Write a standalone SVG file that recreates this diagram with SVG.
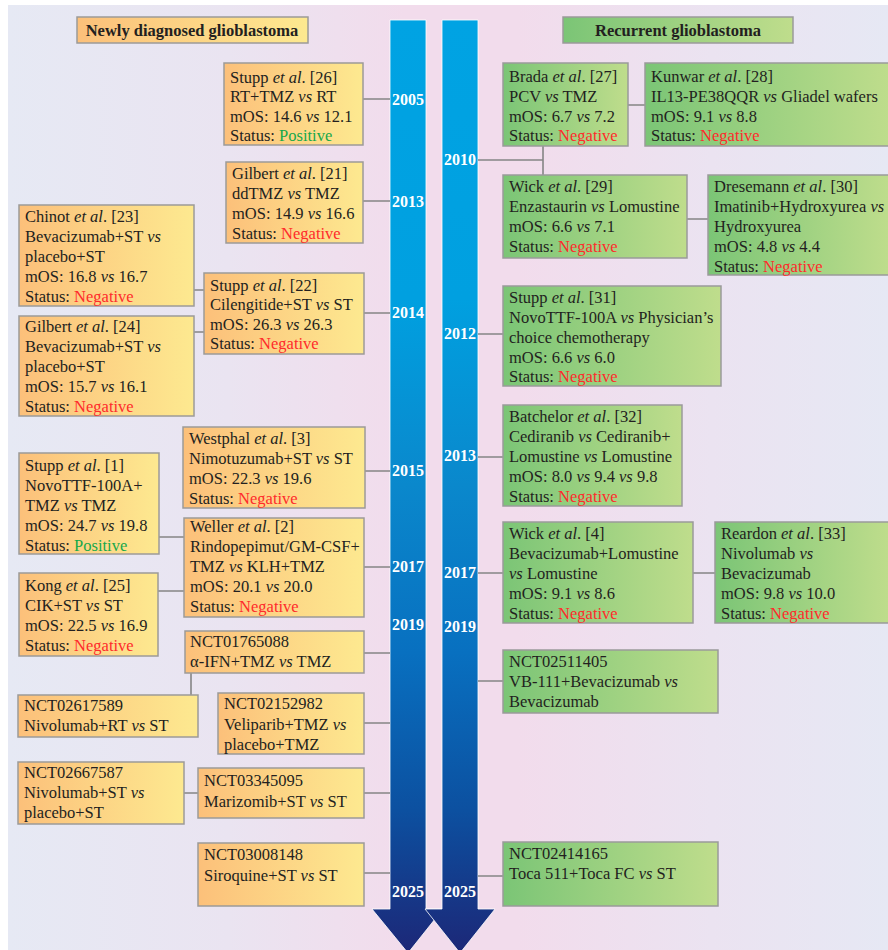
<svg xmlns="http://www.w3.org/2000/svg" width="888" height="950" viewBox="0 0 888 950">
<defs>
<linearGradient id="bg" x1="0" y1="0" x2="1" y2="0">
<stop offset="0" stop-color="#e6e9f4"/>
<stop offset="0.25" stop-color="#eae4f1"/>
<stop offset="0.45" stop-color="#f2dcec"/>
<stop offset="0.58" stop-color="#f2dcec"/>
<stop offset="0.8" stop-color="#ebe3f1"/>
<stop offset="1" stop-color="#e6e8f4"/>
</linearGradient>
<linearGradient id="og" x1="0" y1="0" x2="1" y2="0">
<stop offset="0" stop-color="#fcc07a"/>
<stop offset="1" stop-color="#fde990"/>
</linearGradient>
<linearGradient id="gg" x1="0" y1="0" x2="1" y2="0">
<stop offset="0" stop-color="#7bc576"/>
<stop offset="1" stop-color="#bfdd8c"/>
</linearGradient>
<linearGradient id="ag" gradientUnits="userSpaceOnUse" x1="0" y1="20" x2="0" y2="950">
<stop offset="0" stop-color="#00a3e3"/>
<stop offset="0.3" stop-color="#00a0e0"/>
<stop offset="0.5" stop-color="#0a88cc"/>
<stop offset="0.68" stop-color="#0870c0"/>
<stop offset="0.85" stop-color="#0c50a0"/>
<stop offset="1" stop-color="#1c2878"/>
</linearGradient>
<style>
.ob{fill:url(#og);stroke:#9c9a98;stroke-width:1.5}
.gb{fill:url(#gg);stroke:#9a9a9a;stroke-width:1.5}
text{font-family:"Liberation Serif","Times New Roman",serif;font-size:16.5px;fill:#231f20}
.hd{font-weight:bold;text-anchor:middle}
.yr{font-weight:bold;fill:#ffffff;text-anchor:middle;font-size:16px}
.i{font-style:italic}
.neg{fill:#ff2b2b}
.pos{fill:#16a84a}
.ln{stroke:#858585;stroke-width:1.6;fill:none}
.arr{fill:url(#ag);stroke:#ffffff;stroke-width:0.8}
</style>
</defs>
<rect x="0" y="0" width="888" height="950" fill="#ffffff"/>
<rect x="8" y="5" width="880" height="945" fill="url(#bg)"/>

<g id="arrows">
<polygon class="arr" points="390,20 426,20 426,909 443,909 408,953 372,909 390,909"/>
<polygon class="arr" points="442,20 478,20 478,909 495,909 460,953 425,909 442,909"/>
</g>

<g id="connectors">
<path class="ln" d="M363,99H390 M363,201H390 M194,290H204 M194,332H204 M364,313H390 M365,471H390 M159,537H184 M158,591H184 M364,567H390 M364,653H390 M191,673V695 M364,723H390 M184,793H198 M364,793H390 M364,873H390"/>
<path class="ln" d="M478,160H543 M543,146V175 M628,105H645 M687,219H708 M478,334H503 M478,457H503 M478,573H503 M693,573H715 M478,681H503 M478,876H503"/>
</g>

<g id="years">
<text class="yr" x="408" y="105">2005</text>
<text class="yr" x="408" y="207">2013</text>
<text class="yr" x="408" y="318">2014</text>
<text class="yr" x="408" y="476">2015</text>
<text class="yr" x="408" y="572">2017</text>
<text class="yr" x="408" y="630">2019</text>
<text class="yr" x="408" y="897">2025</text>
<text class="yr" x="460" y="165">2010</text>
<text class="yr" x="460" y="339">2012</text>
<text class="yr" x="460" y="461">2013</text>
<text class="yr" x="460" y="578">2017</text>
<text class="yr" x="460" y="632">2019</text>
<text class="yr" x="460" y="897">2025</text>
</g>

<g id="hdr-left">
<rect class="ob" x="77" y="17" width="231" height="26"/>
<text class="hd" x="192" y="36">Newly diagnosed glioblastoma</text>
</g>
<g id="hdr-right">
<rect class="gb" x="563" y="17" width="230" height="26"/>
<text class="hd" x="678" y="36">Recurrent glioblastoma</text>
</g>

<g id="stupp26">
<rect class="ob" x="224" y="63" width="139" height="82"/>
<text x="230" y="83">Stupp <tspan class="i">et al</tspan>. [26]</text>
<text x="230" y="102">RT+TMZ <tspan class="i">vs</tspan> RT</text>
<text x="230" y="122">mOS: 14.6 <tspan class="i">vs</tspan> 12.1</text>
<text x="230" y="141">Status: <tspan class="pos">Positive</tspan></text>
</g>
<g id="gilbert21">
<rect class="ob" x="226" y="162" width="137" height="81"/>
<text x="232" y="179">Gilbert <tspan class="i">et al</tspan>. [21]</text>
<text x="232" y="199">ddTMZ <tspan class="i">vs</tspan> TMZ</text>
<text x="232" y="219">mOS: 14.9 <tspan class="i">vs</tspan> 16.6</text>
<text x="232" y="239">Status: <tspan class="neg">Negative</tspan></text>
</g>
<g id="chinot23">
<rect class="ob" x="19" y="205" width="175" height="101"/>
<text x="25" y="222">Chinot <tspan class="i">et al</tspan>. [23]</text>
<text x="25" y="242">Bevacizumab+ST <tspan class="i">vs</tspan></text>
<text x="25" y="262">placebo+ST</text>
<text x="25" y="282">mOS: 16.8 <tspan class="i">vs</tspan> 16.7</text>
<text x="25" y="302">Status: <tspan class="neg">Negative</tspan></text>
</g>
<g id="gilbert24">
<rect class="ob" x="19" y="316" width="175" height="100"/>
<text x="25" y="332">Gilbert <tspan class="i">et al</tspan>. [24]</text>
<text x="25" y="352">Bevacizumab+ST <tspan class="i">vs</tspan></text>
<text x="25" y="372">placebo+ST</text>
<text x="25" y="392">mOS: 15.7 <tspan class="i">vs</tspan> 16.1</text>
<text x="25" y="412">Status: <tspan class="neg">Negative</tspan></text>
</g>
<g id="stupp22">
<rect class="ob" x="204" y="273" width="160" height="81"/>
<text x="210" y="291">Stupp <tspan class="i">et al</tspan>. [22]</text>
<text x="210" y="310">Cilengitide+ST <tspan class="i">vs</tspan> ST</text>
<text x="210" y="330">mOS: 26.3 <tspan class="i">vs</tspan> 26.3</text>
<text x="210" y="349">Status: <tspan class="neg">Negative</tspan></text>
</g>
<g id="westphal3">
<rect class="ob" x="183" y="427" width="182" height="81"/>
<text x="189" y="444">Westphal <tspan class="i">et al</tspan>. [3]</text>
<text x="189" y="464">Nimotuzumab+ST <tspan class="i">vs</tspan> ST</text>
<text x="189" y="484">mOS: 22.3 <tspan class="i">vs</tspan> 19.6</text>
<text x="189" y="504">Status: <tspan class="neg">Negative</tspan></text>
</g>
<g id="stupp1">
<rect class="ob" x="19" y="453" width="140" height="101"/>
<text x="25" y="471">Stupp <tspan class="i">et al</tspan>. [1]</text>
<text x="25" y="491">NovoTTF-100A+</text>
<text x="25" y="511">TMZ <tspan class="i">vs</tspan> TMZ</text>
<text x="25" y="531">mOS: 24.7 <tspan class="i">vs</tspan> 19.8</text>
<text x="25" y="551">Status: <tspan class="pos">Positive</tspan></text>
</g>
<g id="weller2">
<rect class="ob" x="184" y="518" width="180" height="99"/>
<text x="190" y="532">Weller <tspan class="i">et al</tspan>. [2]</text>
<text x="190" y="552">Rindopepimut/GM-CSF+</text>
<text x="190" y="572">TMZ <tspan class="i">vs</tspan> KLH+TMZ</text>
<text x="190" y="592">mOS: 20.1 <tspan class="i">vs</tspan> 20.0</text>
<text x="190" y="612">Status: <tspan class="neg">Negative</tspan></text>
</g>
<g id="kong25">
<rect class="ob" x="19" y="573" width="139" height="83"/>
<text x="25" y="591">Kong <tspan class="i">et al</tspan>. [25]</text>
<text x="25" y="611">CIK+ST <tspan class="i">vs</tspan> ST</text>
<text x="25" y="631">mOS: 22.5 <tspan class="i">vs</tspan> 16.9</text>
<text x="25" y="651">Status: <tspan class="neg">Negative</tspan></text>
</g>
<g id="nct01765088">
<rect class="ob" x="185" y="631" width="179" height="42"/>
<text x="190" y="647">NCT01765088</text>
<text x="190" y="667">α-IFN+TMZ <tspan class="i">vs</tspan> TMZ</text>
</g>
<g id="nct02617589">
<rect class="ob" x="18" y="695" width="180" height="42"/>
<text x="24" y="711">NCT02617589</text>
<text x="24" y="731">Nivolumab+RT <tspan class="i">vs</tspan> ST</text>
</g>
<g id="nct02152982">
<rect class="ob" x="218" y="693" width="146" height="61"/>
<text x="224" y="709">NCT02152982</text>
<text x="224" y="730">Veliparib+TMZ <tspan class="i">vs</tspan></text>
<text x="224" y="750">placebo+TMZ</text>
</g>
<g id="nct02667587">
<rect class="ob" x="18" y="762" width="166" height="62"/>
<text x="24" y="778">NCT02667587</text>
<text x="24" y="798">Nivolumab+ST <tspan class="i">vs</tspan></text>
<text x="24" y="818">placebo+ST</text>
</g>
<g id="nct03345095">
<rect class="ob" x="198" y="768" width="166" height="50"/>
<text x="204" y="786">NCT03345095</text>
<text x="204" y="807">Marizomib+ST <tspan class="i">vs</tspan> ST</text>
</g>
<g id="nct03008148">
<rect class="ob" x="198" y="843" width="166" height="63"/>
<text x="204" y="860">NCT03008148</text>
<text x="204" y="881">Siroquine+ST <tspan class="i">vs</tspan> ST</text>
</g>

<g id="brada27">
<rect class="gb" x="503" y="63" width="125" height="83"/>
<text x="509" y="82">Brada <tspan class="i">et al</tspan>. [27]</text>
<text x="509" y="102">PCV <tspan class="i">vs</tspan> TMZ</text>
<text x="509" y="122">mOS: 6.7 <tspan class="i">vs</tspan> 7.2</text>
<text x="509" y="141">Status: <tspan class="neg">Negative</tspan></text>
</g>
<g id="kunwar28">
<rect class="gb" x="645" y="63" width="246" height="83"/>
<text x="651" y="82">Kunwar <tspan class="i">et al</tspan>. [28]</text>
<text x="651" y="102">IL13-PE38QQR <tspan class="i">vs</tspan> Gliadel wafers</text>
<text x="651" y="122">mOS: 9.1 <tspan class="i">vs</tspan> 8.8</text>
<text x="651" y="141">Status: <tspan class="neg">Negative</tspan></text>
</g>
<g id="wick29">
<rect class="gb" x="503" y="175" width="184" height="83"/>
<text x="509" y="192">Wick <tspan class="i">et al</tspan>. [29]</text>
<text x="509" y="212">Enzastaurin <tspan class="i">vs</tspan> Lomustine</text>
<text x="509" y="232">mOS: 6.6 <tspan class="i">vs</tspan> 7.1</text>
<text x="509" y="252">Status: <tspan class="neg">Negative</tspan></text>
</g>
<g id="dresemann30">
<rect class="gb" x="708" y="175" width="183" height="100"/>
<text x="714" y="192">Dresemann <tspan class="i">et al</tspan>. [30]</text>
<text x="714" y="212">Imatinib+Hydroxyurea <tspan class="i">vs</tspan></text>
<text x="714" y="232">Hydroxyurea</text>
<text x="714" y="252">mOS: 4.8 <tspan class="i">vs</tspan> 4.4</text>
<text x="714" y="272">Status: <tspan class="neg">Negative</tspan></text>
</g>
<g id="stupp31">
<rect class="gb" x="503" y="286" width="218" height="100"/>
<text x="509" y="303">Stupp <tspan class="i">et al</tspan>. [31]</text>
<text x="509" y="323">NovoTTF-100A <tspan class="i">vs</tspan> Physician’s</text>
<text x="509" y="343">choice chemotherapy</text>
<text x="509" y="363">mOS: 6.6 <tspan class="i">vs</tspan> 6.0</text>
<text x="509" y="382">Status: <tspan class="neg">Negative</tspan></text>
</g>
<g id="batchelor32">
<rect class="gb" x="503" y="405" width="179" height="101"/>
<text x="509" y="422">Batchelor <tspan class="i">et al</tspan>. [32]</text>
<text x="509" y="442">Cediranib <tspan class="i">vs</tspan> Cediranib+</text>
<text x="509" y="462">Lomustine <tspan class="i">vs</tspan> Lomustine</text>
<text x="509" y="482">mOS: 8.0 <tspan class="i">vs</tspan> 9.4 <tspan class="i">vs</tspan> 9.8</text>
<text x="509" y="502">Status: <tspan class="neg">Negative</tspan></text>
</g>
<g id="wick4">
<rect class="gb" x="503" y="522" width="190" height="101"/>
<text x="509" y="539">Wick <tspan class="i">et al</tspan>. [4]</text>
<text x="509" y="559">Bevacizumab+Lomustine</text>
<text x="509" y="579"><tspan class="i">vs</tspan> Lomustine</text>
<text x="509" y="599">mOS: 9.1 <tspan class="i">vs</tspan> 8.6</text>
<text x="509" y="619">Status: <tspan class="neg">Negative</tspan></text>
</g>
<g id="reardon33">
<rect class="gb" x="715" y="522" width="176" height="101"/>
<text x="721" y="539">Reardon <tspan class="i">et al</tspan>. [33]</text>
<text x="721" y="559">Nivolumab <tspan class="i">vs</tspan></text>
<text x="721" y="579">Bevacizumab</text>
<text x="721" y="599">mOS: 9.8 <tspan class="i">vs</tspan> 10.0</text>
<text x="721" y="619">Status: <tspan class="neg">Negative</tspan></text>
</g>
<g id="nct02511405">
<rect class="gb" x="503" y="650" width="215" height="63"/>
<text x="509" y="667">NCT02511405</text>
<text x="509" y="687">VB-111+Bevacizumab <tspan class="i">vs</tspan></text>
<text x="509" y="707">Bevacizumab</text>
</g>
<g id="nct02414165">
<rect class="gb" x="503" y="842" width="215" height="64"/>
<text x="509" y="859">NCT02414165</text>
<text x="509" y="879">Toca 511+Toca FC <tspan class="i">vs</tspan> ST</text>
</g>
</svg>
